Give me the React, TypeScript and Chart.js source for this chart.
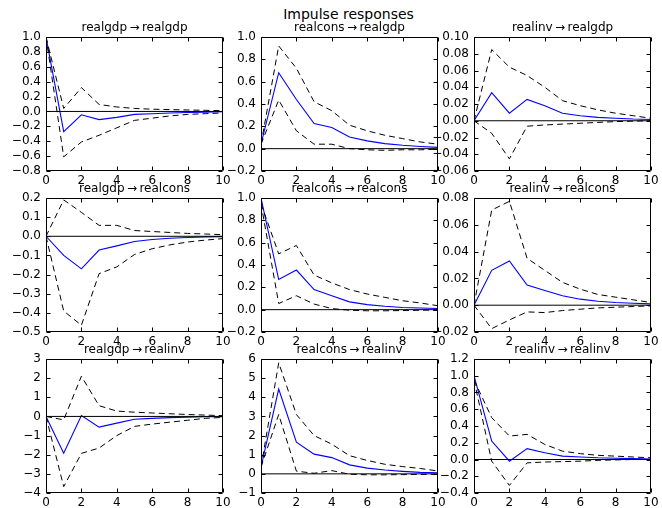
import React, { useEffect, useRef } from "react";
import { Chart, registerables } from "chart.js";

Chart.register(...registerables);
Chart.defaults.font.family = "'DejaVu Sans', sans-serif";

const lags = [0, 1, 2, 3, 4, 5, 6, 7, 8, 9, 10];
const xTicks = [0, 2, 4, 6, 8, 10];

// row 1: response realgdp
const gdpGdpMid = [1.0, -0.27, -0.045, -0.11, -0.08, -0.04, -0.03, -0.02, -0.015, -0.01, -0.005];
const gdpGdpUp = [1.0, 0.04, 0.32, 0.094, 0.06, 0.04, 0.03, 0.025, 0.02, 0.015, 0.01];
const gdpGdpLo = [1.0, -0.61, -0.41, -0.32, -0.22, -0.12, -0.09, -0.06, -0.04, -0.03, -0.02];
const gdpGdpTicks = [-0.8, -0.6, -0.4, -0.2, 0, 0.2, 0.4, 0.6, 0.8, 1.0];

const consGdpMid = [0.04, 0.68, 0.44, 0.225, 0.19, 0.105, 0.07, 0.045, 0.03, 0.02, 0.012];
const consGdpUp = [0.04, 0.92, 0.72, 0.42, 0.34, 0.21, 0.16, 0.12, 0.09, 0.06, 0.04];
const consGdpLo = [0.04, 0.435, 0.16, 0.04, 0.04, 0.0, -0.01, -0.015, -0.01, -0.01, -0.005];
const consGdpTicks = [-0.2, 0, 0.2, 0.4, 0.6, 0.8, 1.0];

const invGdpMid = [0.0, 0.0335, 0.009, 0.0255, 0.018, 0.009, 0.006, 0.004, 0.003, 0.002, 0.0015];
const invGdpUp = [0.0, 0.085, 0.064, 0.054, 0.04, 0.024, 0.018, 0.013, 0.009, 0.006, 0.003];
const invGdpLo = [0.0, -0.015, -0.0455, -0.0065, -0.005, -0.004, -0.003, -0.002, -0.001, -0.0005, 0.0];
const invGdpTicks = [-0.06, -0.04, -0.02, 0, 0.02, 0.04, 0.06, 0.08, 0.1];

// row 2: response realcons
const gdpConsMid = [0.0, -0.1, -0.17, -0.072, -0.05, -0.027, -0.017, -0.01, -0.006, -0.003, -0.002];
const gdpConsUp = [0.0, 0.19, 0.125, 0.057, 0.057, 0.03, 0.025, 0.02, 0.015, 0.012, 0.008];
const gdpConsLo = [0.0, -0.39, -0.465, -0.195, -0.16, -0.095, -0.065, -0.045, -0.03, -0.02, -0.012];
const gdpConsTicks = [-0.5, -0.4, -0.3, -0.2, -0.1, 0, 0.1, 0.2];

const consConsMid = [1.0, 0.27, 0.355, 0.18, 0.125, 0.07, 0.045, 0.03, 0.02, 0.015, 0.01];
const consConsUp = [0.95, 0.5, 0.575, 0.31, 0.24, 0.18, 0.14, 0.11, 0.08, 0.06, 0.035];
const consConsLo = [0.95, 0.055, 0.125, 0.05, 0.01, -0.005, -0.01, -0.01, -0.008, -0.005, -0.003];
const consConsTicks = [-0.2, 0, 0.2, 0.4, 0.6, 0.8, 1.0];

const invConsMid = [0.0, 0.026, 0.033, 0.015, 0.011, 0.007, 0.0045, 0.003, 0.002, 0.0015, 0.001];
const invConsUp = [0.0, 0.071, 0.0775, 0.035, 0.026, 0.017, 0.012, 0.008, 0.006, 0.004, 0.002];
const invConsLo = [0.0, -0.0175, -0.011, -0.005, -0.0055, -0.004, -0.003, -0.002, -0.0015, -0.001, -0.0005];
const invConsTicks = [-0.02, 0, 0.02, 0.04, 0.06, 0.08];

// row 3: response realinv
const gdpInvMid = [0.0, -1.92, 0.05, -0.56, -0.35, -0.15, -0.1, -0.06, -0.04, -0.02, -0.01];
const gdpInvUp = [0.0, -0.18, 2.1, 0.56, 0.28, 0.22, 0.18, 0.14, 0.1, 0.07, 0.04];
const gdpInvLo = [0.0, -3.67, -1.93, -1.65, -1.0, -0.52, -0.4, -0.3, -0.2, -0.1, -0.05];
const gdpInvTicks = [-4, -3, -2, -1, 0, 1, 2, 3];

const consInvMid = [0.35, 4.43, 1.66, 1.03, 0.85, 0.47, 0.3, 0.2, 0.13, 0.08, 0.06];
const consInvUp = [0.35, 5.8, 3.1, 2.0, 1.55, 0.95, 0.7, 0.5, 0.38, 0.28, 0.15];
const consInvLo = [0.35, 3.1, 0.14, 0.03, 0.17, -0.02, -0.05, -0.05, -0.04, -0.03, -0.02];
const consInvTicks = [-1, 0, 1, 2, 3, 4, 5, 6];

const invInvMid = [1.0, 0.22, -0.02, 0.13, 0.08, 0.04, 0.03, 0.02, 0.015, 0.01, 0.005];
const invInvUp = [0.95, 0.5, 0.28, 0.3, 0.18, 0.1, 0.07, 0.05, 0.04, 0.03, 0.02];
const invInvLo = [0.95, -0.02, -0.31, -0.04, -0.03, -0.025, -0.02, -0.01, -0.005, 0.0, 0.0];
const invInvTicks = [-0.4, -0.2, 0, 0.2, 0.4, 0.6, 0.8, 1.0, 1.2];

const mainTitle = "Impulse responses";
const ARROW = "\u2009\u2192\u2009";

const AXIS_W = 46;
const TOP_PAD = 22;
const RIGHT_PAD = 12;
const X_AXIS_H = 18;
const PLOT_W = 177;
const PLOT_H = 134;
const colLefts = [46, 261, 474];
const rowTops = [37, 198, 359];

type PanelSpec = {
  title: string;
  mid: number[];
  up: number[];
  lo: number[];
  ticks: number[];
  dec: number;
  row: number;
  col: number;
};

const panels: PanelSpec[] = [
  { title: "realgdp" + ARROW + "realgdp", mid: gdpGdpMid, up: gdpGdpUp, lo: gdpGdpLo, ticks: gdpGdpTicks, dec: 1, row: 0, col: 0 },
  { title: "realcons" + ARROW + "realgdp", mid: consGdpMid, up: consGdpUp, lo: consGdpLo, ticks: consGdpTicks, dec: 1, row: 0, col: 1 },
  { title: "realinv" + ARROW + "realgdp", mid: invGdpMid, up: invGdpUp, lo: invGdpLo, ticks: invGdpTicks, dec: 2, row: 0, col: 2 },
  { title: "realgdp" + ARROW + "realcons", mid: gdpConsMid, up: gdpConsUp, lo: gdpConsLo, ticks: gdpConsTicks, dec: 1, row: 1, col: 0 },
  { title: "realcons" + ARROW + "realcons", mid: consConsMid, up: consConsUp, lo: consConsLo, ticks: consConsTicks, dec: 1, row: 1, col: 1 },
  { title: "realinv" + ARROW + "realcons", mid: invConsMid, up: invConsUp, lo: invConsLo, ticks: invConsTicks, dec: 2, row: 1, col: 2 },
  { title: "realgdp" + ARROW + "realinv", mid: gdpInvMid, up: gdpInvUp, lo: gdpInvLo, ticks: gdpInvTicks, dec: 0, row: 2, col: 0 },
  { title: "realcons" + ARROW + "realinv", mid: consInvMid, up: consInvUp, lo: consInvLo, ticks: consInvTicks, dec: 0, row: 2, col: 1 },
  { title: "realinv" + ARROW + "realinv", mid: invInvMid, up: invInvUp, lo: invInvLo, ticks: invInvTicks, dec: 1, row: 2, col: 2 },
];

function fmt(v: number, dec: number): string {
  const s = Math.abs(v).toFixed(dec);
  const isZero = Math.abs(v) < 1e-9;
  return (v < 0 && !isZero ? "\u2212" : "") + s;
}

const framePlugin = {
  id: "mplFrame",
  afterDraw(chart: any, _args: any, opts: any) {
    const { ctx, chartArea } = chart;
    const { left, right, top, bottom } = chartArea;
    const xs = chart.scales.x;
    const ys = chart.scales.y;
    ctx.save();
    ctx.strokeStyle = "#000";
    ctx.lineWidth = 1;
    ctx.beginPath();
    const L = Math.round(left) + 0.5;
    const R = Math.round(right) - 0.5;
    const T = Math.round(top) + 0.5;
    const B = Math.round(bottom) - 0.5;
    ctx.rect(L, T, R - L, B - T);
    const len = 4;
    xs.ticks.forEach((t: any) => {
      const px = Math.round(xs.getPixelForValue(t.value)) + 0.5;
      ctx.moveTo(px, B);
      ctx.lineTo(px, B - len);
      ctx.moveTo(px, T);
      ctx.lineTo(px, T + len);
    });
    ys.ticks.forEach((t: any) => {
      const py = Math.round(ys.getPixelForValue(t.value)) + 0.5;
      ctx.moveTo(L, py);
      ctx.lineTo(L + len, py);
      ctx.moveTo(R, py);
      ctx.lineTo(R - len, py);
    });
    ctx.stroke();
    // subplot title
    ctx.fillStyle = "#000";
    ctx.font = "12px 'DejaVu Sans', sans-serif";
    ctx.textAlign = "center";
    ctx.textBaseline = "middle";
    ctx.fillText(opts.text, (left + right) / 2, top - 9);
    ctx.restore();
  },
};

function Panel({ spec }: { spec: PanelSpec }) {
  const ref = useRef<HTMLCanvasElement | null>(null);
  useEffect(() => {
    if (!ref.current) return;
    const toPts = (arr: number[]) => lags.map((x, i) => ({ x, y: arr[i] }));
    const chart = new Chart(ref.current, {
      type: "line",
      data: {
        datasets: [
          { data: [{ x: 0, y: 0 }, { x: 10, y: 0 }], borderColor: "#000", borderWidth: 1, pointRadius: 0 },
          { data: toPts(spec.up), borderColor: "#000", borderWidth: 1, borderDash: [6, 4], pointRadius: 0 },
          { data: toPts(spec.lo), borderColor: "#000", borderWidth: 1, borderDash: [6, 4], pointRadius: 0 },
          { data: toPts(spec.mid), borderColor: "#0000ff", borderWidth: 1.1, pointRadius: 0 },
        ],
      },
      options: {
        animation: false,
        responsive: false,
        events: [],
        layout: { padding: { left: 0, top: TOP_PAD, right: RIGHT_PAD, bottom: 0 } },
        plugins: {
          legend: { display: false },
          tooltip: { enabled: false },
          title: { display: false },
          mplFrame: { text: spec.title },
        } as any,
        elements: { line: { tension: 0 } },
        scales: {
          x: {
            type: "linear",
            min: 0,
            max: 10,
            grid: { display: false, drawTicks: false },
            border: { display: false },
            afterBuildTicks: (s: any) => {
              s.ticks = xTicks.map((v) => ({ value: v }));
            },
            afterFit: (s: any) => {
              s.height = X_AXIS_H;
            },
            ticks: {
              color: "#000",
              font: { size: 12 },
              padding: 3,
              maxRotation: 0,
              autoSkip: false,
              callback: (v: any) => String(v),
            },
          },
          y: {
            type: "linear",
            min: spec.ticks[0],
            max: spec.ticks[spec.ticks.length - 1],
            grid: { display: false, drawTicks: false },
            border: { display: false },
            afterBuildTicks: (s: any) => {
              s.ticks = spec.ticks.map((v) => ({ value: v }));
            },
            afterFit: (s: any) => {
              s.width = AXIS_W;
            },
            ticks: {
              color: "#000",
              font: { size: 12 },
              padding: 5,
              autoSkip: false,
              callback: (v: any) => fmt(Number(v), spec.dec),
            },
          },
        },
      },
      plugins: [framePlugin],
    });
    return () => chart.destroy();
  }, [spec]);
  const w = AXIS_W + PLOT_W + RIGHT_PAD;
  const h = TOP_PAD + PLOT_H + X_AXIS_H;
  return (
    <canvas
      ref={ref}
      width={w}
      height={h}
      style={{
        position: "absolute",
        left: colLefts[spec.col] - AXIS_W,
        top: rowTops[spec.row] - TOP_PAD,
        width: w,
        height: h,
      }}
    />
  );
}

export default function App() {
  return (
    <div
      style={{
        position: "absolute",
        left: 0,
        top: 0,
        width: 662,
        height: 508,
        background: "#fff",
        overflow: "hidden",
      }}
    >
      <div
        style={{
          position: "absolute",
          left: 348.5 - 150,
          top: 5,
          width: 300,
          textAlign: "center",
          font: "14px 'DejaVu Sans', sans-serif",
          lineHeight: "18px",
          color: "#000",
        }}
      >
        {mainTitle}
      </div>
      {panels.map((p) => (
        <Panel key={p.title} spec={p} />
      ))}
    </div>
  );
}
